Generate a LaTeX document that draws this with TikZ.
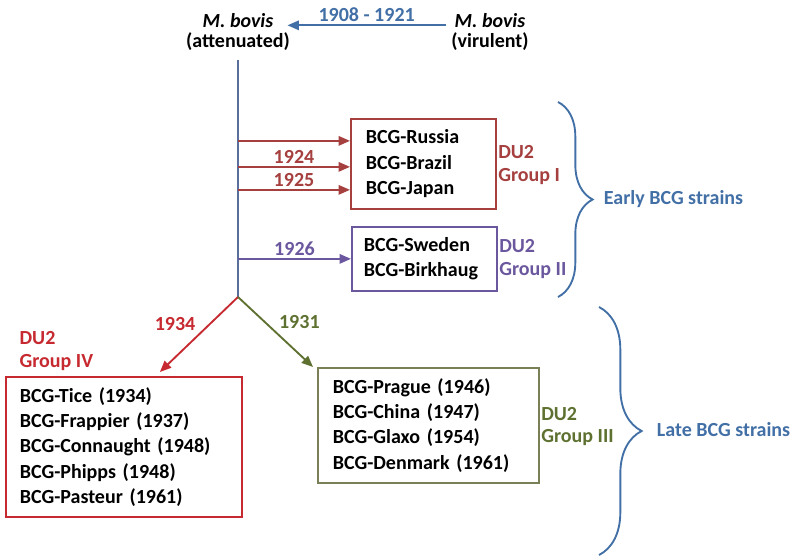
\documentclass[tikz,border=0pt]{standalone}
\usepackage{fontspec}
\setmainfont{Carlito}
\usetikzlibrary{arrows.meta,positioning,calc,decorations.pathreplacing}
\definecolor{bovis}{HTML}{4270A6}
\definecolor{trunk}{HTML}{5A6E9C}
\definecolor{grpone}{HTML}{A5403F}
\definecolor{grptwo}{HTML}{6B579E}
\definecolor{grpthree}{HTML}{5E7131}
\definecolor{grpthreebox}{HTML}{7B7F55}
\definecolor{grpfour}{HTML}{C62A30}
\tikzset{
  strain/.style={draw, line width=1.3pt, anchor=north west, align=left,
                 inner ysep=0pt, font=\bfseries\fontsize{15}{19}\selectfont},
  arrow/.style={-{Triangle[length=8.5pt,width=7pt]}, line width=1.4pt},
  yearlabel/.style={font=\bfseries\fontsize{15}{19}\selectfont, inner sep=2pt},
  grouplabel/.style={font=\bfseries\fontsize{15}{17}\selectfont, align=left, inner sep=1pt},
  curly/.style={decorate, decoration={brace, amplitude=#1}, draw=bovis, line width=1.4pt}
}
\begin{document}
\begin{tikzpicture}[x=0.75pt,y=-0.75pt]
        \useasboundingbox (0,0) rectangle (800,560);
        % parent strains
        \node[font=\bfseries\fontsize{15}{15.5}\selectfont,align=center,inner sep=0pt] (att) at (238,32) {\textit{M. bovis}\\(attenuated)};
        \node[font=\bfseries\fontsize{15}{15.5}\selectfont,align=center,inner sep=0pt] (vir) at (490,32) {\textit{M. bovis}\\(virulent)};
        \draw[arrow,draw=bovis] ([xshift=-4pt,yshift=5pt]vir.west)
          -- node[midway,above,yearlabel,text=bovis] {1908 - 1921} ([xshift=-2pt,yshift=5pt]att.east);

        \coordinate (split) at (238,297);
        \draw[line width=1.3pt,draw=trunk] ([yshift=-7pt]att.south) -- (split);

        % early strains
        \node[strain,draw=grpone,text width=86.25pt,inner xsep=11.25pt,
              minimum width=108.75pt,minimum height=67.5pt] (g1) at (350,118)
          {BCG-Russia\\BCG-Brazil\\BCG-Japan};
        \node[grouplabel,text=grpone,anchor=west] (du1) at ([yshift=-0.75pt]g1.east) {DU2\\Group I};
        \coordinate (in1) at ([yshift=17.25pt]g1.west);
        \coordinate (in2) at ([yshift=-2.25pt]g1.west);
        \coordinate (in3) at ([yshift=-19.5pt]g1.west);
        \draw[arrow,draw=grpone] (split |- in1) -- (in1);
        \draw[arrow,draw=grpone] (split |- in2) -- node[above,yearlabel,text=grpone] {1924} (in2);
        \draw[arrow,draw=grpone] (split |- in3) -- node[above,yearlabel,text=grpone] {1925} (in3);

        \node[strain,draw=grptwo,text width=90.75pt,inner xsep=9pt,
              minimum width=108.75pt,minimum height=48pt] (g2) at (351,226)
          {BCG-Sweden\\BCG-Birkhaug};
        \node[grouplabel,text=grptwo,anchor=west] (du2) at (g2.east) {DU2\\Group II};
        \draw[arrow,draw=grptwo] (split |- g2.west) -- node[above,yearlabel,text=grptwo] {1926} (g2.west);

        % late strains
        \node[strain,draw=grpfour,text width=156pt,inner xsep=10.5pt,
              minimum width=177pt,minimum height=105pt] (g4) at (5,376)
          {BCG-Tice (1934)\\BCG-Frappier (1937)\\BCG-Connaught (1948)\\BCG-Phipps (1948)\\BCG-Pasteur (1961)};
        \node[grouplabel,text=grpfour,anchor=south west] (du4) at ([xshift=9.75pt,yshift=3pt]g4.north west) {DU2\\Group IV};

        \node[strain,draw=grpthreebox,text width=143.25pt,inner xsep=11.25pt,
              minimum width=165.75pt,minimum height=86.25pt] (g3) at (317,367)
          {BCG-Prague (1946)\\BCG-China (1947)\\BCG-Glaxo (1954)\\BCG-Denmark (1961)};
        \node[grouplabel,text=grpthree,anchor=west] (du3) at ([yshift=-0.75pt]g3.east) {DU2\\Group III};

        \draw[arrow,draw=grpfour] (split)
          -- node[above left,yearlabel,text=grpfour] {1934} ([xshift=27pt,yshift=3pt]g4.north);
        \draw[arrow,draw=grpthree] (split)
          -- node[above right,yearlabel,text=grpthree] {1931} ([xshift=-3pt]g3.north west);

        % braces
        \draw[curly=26pt] (558,102) -- (558,297);
        \node[yearlabel,text=bovis,anchor=west] (early) at (601,199) {Early BCG strains};
        \draw[curly=32pt] (599,307) -- (599,555);
        \node[yearlabel,text=bovis,anchor=west] (late) at (654,430) {Late BCG strains};
      \end{tikzpicture}
\end{document}
